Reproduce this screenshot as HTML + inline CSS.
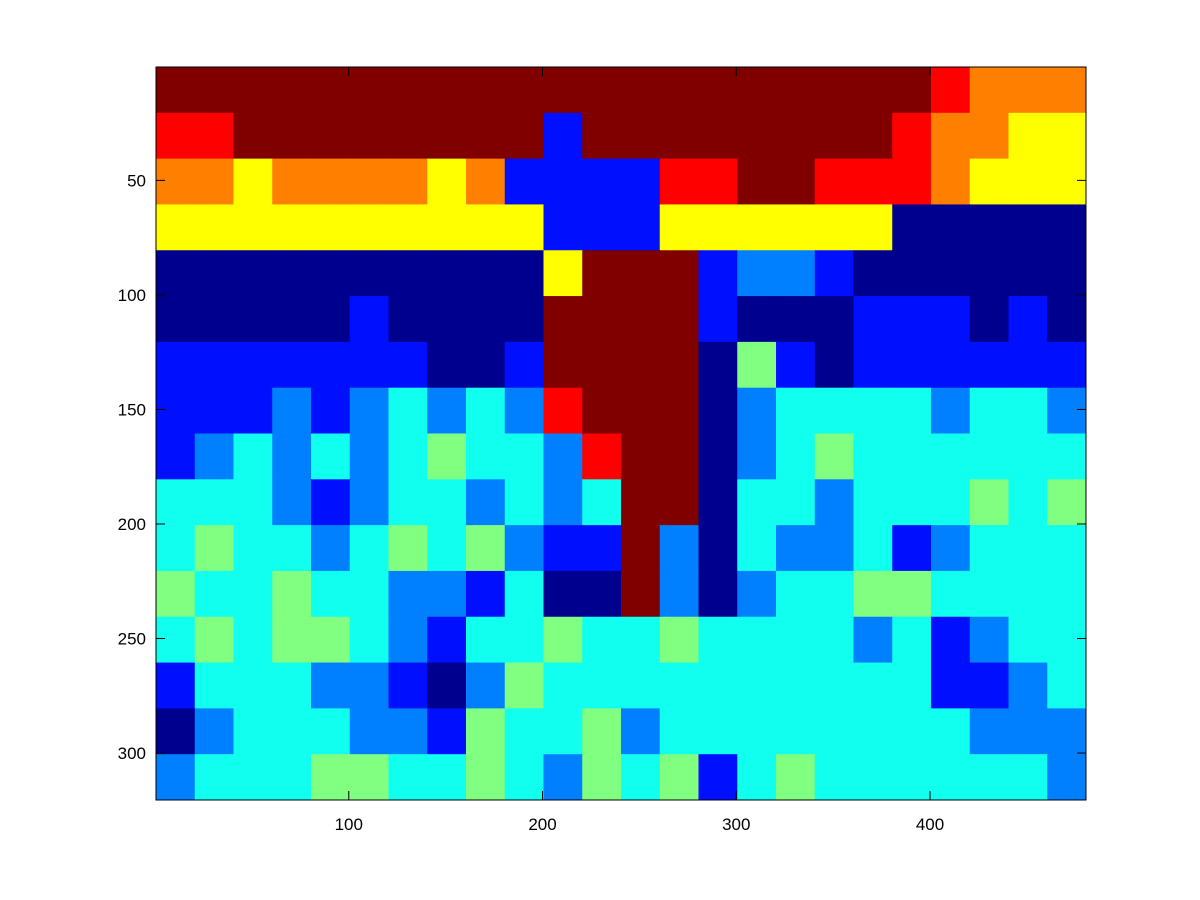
<!DOCTYPE html>
<html><head><meta charset="utf-8"><style>
html,body{margin:0;padding:0;background:#fff;}
svg{display:block;font-family:"Liberation Sans",sans-serif;}
</style></head><body>
<svg id="chart" width="1200" height="900" viewBox="0 0 1200 900">
<rect width="1200" height="900" fill="#fff"/>
<g id="cells"></g>
<g id="axes"></g>
</svg>
<script>
const nCols = 480, nRows = 320, cellSize = 20;
const palette = ["#00008f","#0010ff","#0080ff","#10ffef","#80ff80","#ffff00","#ff8000","#ff0000","#800000"];
const xTicks = [100,200,300,400];
const yTicks = [50,100,150,200,250,300];
const levels = [
[8,8,8,8,8,8,8,8,8,8,8,8,8,8,8,8,8,8,8,8,7,6,6,6],
[7,7,8,8,8,8,8,8,8,8,1,8,8,8,8,8,8,8,8,7,6,6,5,5],
[6,6,5,6,6,6,6,5,6,1,1,1,1,7,7,8,8,7,7,7,6,5,5,5],
[5,5,5,5,5,5,5,5,5,5,1,1,1,5,5,5,5,5,5,0,0,0,0,0],
[0,0,0,0,0,0,0,0,0,0,5,8,8,8,1,2,2,1,0,0,0,0,0,0],
[0,0,0,0,0,1,0,0,0,0,8,8,8,8,1,0,0,0,1,1,1,0,1,0],
[1,1,1,1,1,1,1,0,0,1,8,8,8,8,0,4,1,0,1,1,1,1,1,1],
[1,1,1,2,1,2,3,2,3,2,7,8,8,8,0,2,3,3,3,3,2,3,3,2],
[1,2,3,2,3,2,3,4,3,3,2,7,8,8,0,2,3,4,3,3,3,3,3,3],
[3,3,3,2,1,2,3,3,2,3,2,3,8,8,0,3,3,2,3,3,3,4,3,4],
[3,4,3,3,2,3,4,3,4,2,1,1,8,2,0,3,2,2,3,1,2,3,3,3],
[4,3,3,4,3,3,2,2,1,3,0,0,8,2,0,2,3,3,4,4,3,3,3,3],
[3,4,3,4,4,3,2,1,3,3,4,3,3,4,3,3,3,3,2,3,1,2,3,3],
[1,3,3,3,2,2,1,0,2,4,3,3,3,3,3,3,3,3,3,3,1,1,2,3],
[0,2,3,3,3,2,2,1,4,3,3,4,2,3,3,3,3,3,3,3,3,2,2,2],
[2,3,3,3,4,4,3,3,4,3,2,4,3,4,1,3,4,3,3,3,3,3,3,2]
];
const L=156,R=1086,T=67,B=800;
const xS = v => L + v*(R-L)/nCols;
const yS = v => T + v*(B-T)/nRows;
const NS="http://www.w3.org/2000/svg";
const cg=document.getElementById('cells');
levels.forEach((row,ri)=>row.forEach((lv,ci)=>{
  const r=document.createElementNS(NS,'rect');
  const x0=xS(ci*cellSize), x1=xS((ci+1)*cellSize), y0=yS(ri*cellSize), y1=yS((ri+1)*cellSize);
  r.setAttribute('x',x0);r.setAttribute('y',y0);
  r.setAttribute('width',x1-x0+0.5);r.setAttribute('height',y1-y0+0.5);
  r.setAttribute('fill',palette[lv]);
  
  
  cg.appendChild(r);
}));
const ag=document.getElementById('axes');
function line(x1,y1,x2,y2){const l=document.createElementNS(NS,'line');
l.setAttribute('x1',x1);l.setAttribute('y1',y1);l.setAttribute('x2',x2);l.setAttribute('y2',y2);
l.setAttribute('stroke','#000');l.setAttribute('stroke-width','1');ag.appendChild(l);return l;}
const fr=document.createElementNS(NS,'rect');
fr.setAttribute('x',L);fr.setAttribute('y',T);fr.setAttribute('width',R-L);fr.setAttribute('height',B-T);
fr.setAttribute('fill','none');fr.setAttribute('stroke','#000');


ag.appendChild(fr);
xTicks.forEach(v=>{
  const x=xS(v-0.5);
  const t1=line(x,B,x,B-9);
  
  
  const t2=line(x,T,x,T+9);
  
  
  const tx=document.createElementNS(NS,'text');
  tx.setAttribute('x',x);tx.setAttribute('y',B+30);tx.setAttribute('text-anchor','middle');
  tx.setAttribute('font-size','17');tx.textContent=v;
  
  
  ag.appendChild(tx);
});
yTicks.forEach(v=>{
  const y=yS(v-0.5);
  const t1=line(L,y,L+9,y);
  
  
  const t2=line(R,y,R-9,y);
  
  
  const tx=document.createElementNS(NS,'text');
  tx.setAttribute('x',L-10);tx.setAttribute('y',y+6);tx.setAttribute('text-anchor','end');
  tx.setAttribute('font-size','17');tx.textContent=v;
  
  
  ag.appendChild(tx);
});
</script>
</body></html>
